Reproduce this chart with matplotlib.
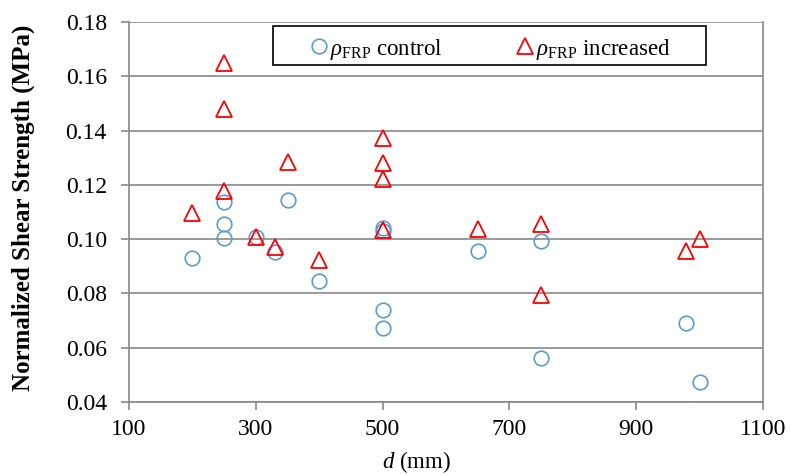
import matplotlib
matplotlib.use("Agg")
import matplotlib.pyplot as plt
from matplotlib.ticker import FixedLocator
from matplotlib.patches import Rectangle

plt.rcParams['font.family'] = ['Liberation Serif', 'DejaVu Serif']
plt.rcParams['mathtext.fontset'] = 'custom'
plt.rcParams['mathtext.rm'] = 'Liberation Serif'
plt.rcParams['mathtext.it'] = 'Liberation Serif:italic'
plt.rcParams['mathtext.bf'] = 'Liberation Serif:bold'

# Data
control_d = [200, 250, 250, 250, 300, 330, 350, 400, 500, 500, 500, 500, 650, 750, 750, 978, 1000]
control_v = [0.093, 0.1138, 0.1057, 0.1006, 0.1008, 0.0952, 0.1146, 0.0845, 0.1042, 0.1030, 0.0740, 0.0672, 0.0955, 0.0995, 0.0562, 0.0690, 0.0474]
incr_d = [200, 250, 250, 250, 300, 330, 350, 400, 500, 500, 500, 500, 650, 750, 750, 978, 1000]
incr_v = [0.1095, 0.1650, 0.1478, 0.1177, 0.1008, 0.0972, 0.1285, 0.0925, 0.1373, 0.1280, 0.1220, 0.1035, 0.1038, 0.1057, 0.0795, 0.0955, 0.1002]
x_ticks = [100, 300, 500, 700, 900, 1100]
y_ticks = [0.04, 0.06, 0.08, 0.10, 0.12, 0.14, 0.16, 0.18]

W, H = 791, 475
fig = plt.figure(figsize=(W/100, H/100), dpi=100)
ax = fig.add_axes([129/W, 1 - 402/H, (763-129)/W, (402-22)/H])

gray = '#898989'
ax.set_xlim(100, 1100)
ax.set_ylim(0.04, 0.18)
ax.xaxis.set_major_locator(FixedLocator(x_ticks))
ax.yaxis.set_major_locator(FixedLocator(y_ticks))
ax.set_yticklabels([f"{v:.2f}" for v in y_ticks])
ax.set_xticklabels([str(v) for v in x_ticks])
ax.grid(axis='y', color=gray, linewidth=1.2)
ax.set_axisbelow(True)
for s in ['left', 'bottom', 'right']:
    ax.spines[s].set_color(gray)
    ax.spines[s].set_linewidth(1.2)
ax.spines['top'].set_visible(False)
ax.tick_params(axis='both', direction='out', length=6, width=1.2, color=gray, labelsize=17)
ax.tick_params(axis='y', pad=10)
ax.tick_params(axis='x', pad=6)

ax.plot(control_d, control_v, linestyle='none', marker='o', markersize=10.5,
        markerfacecolor='none', markeredgecolor='#5b9bd5', markeredgewidth=1.2,
        label=r'$\rho_{\mathrm{FRP}}$ control', clip_on=False)
ax.plot(incr_d, incr_v, linestyle='none', marker='^', markersize=11,
        markerfacecolor='none', markeredgecolor='#ff0000', markeredgewidth=1.3,
        label=r'$\rho_{\mathrm{FRP}}$ increased', clip_on=False)

leg = ax.legend(loc='center', bbox_to_anchor=(490.5/W, 1 - 49/H), bbox_transform=fig.transFigure,
                ncol=2, frameon=False, fontsize=16.5, handletextpad=0.08,
                columnspacing=3.2, borderpad=0.0, handlelength=0.8)
fig.patches.append(Rectangle((273/W, 1 - 65/H), (706-273)/W, (65-26)/H,
                             transform=fig.transFigure, fill=False,
                             edgecolor='black', linewidth=1.2))

ax.set_ylabel('Normalized Shear Strength (MPa)', fontsize=18, fontweight='bold')
ax.yaxis.set_label_coords((23 - 129)/634, (402 - 208)/380)
ax.yaxis.label.set_va('center')
ax.set_xlabel(r'$d$ (mm)', fontsize=16.5)
ax.xaxis.set_label_coords((416 - 129)/634, -(462 - 402)/380)
ax.xaxis.label.set_va('center')

fig.savefig('out.png', dpi=100)
